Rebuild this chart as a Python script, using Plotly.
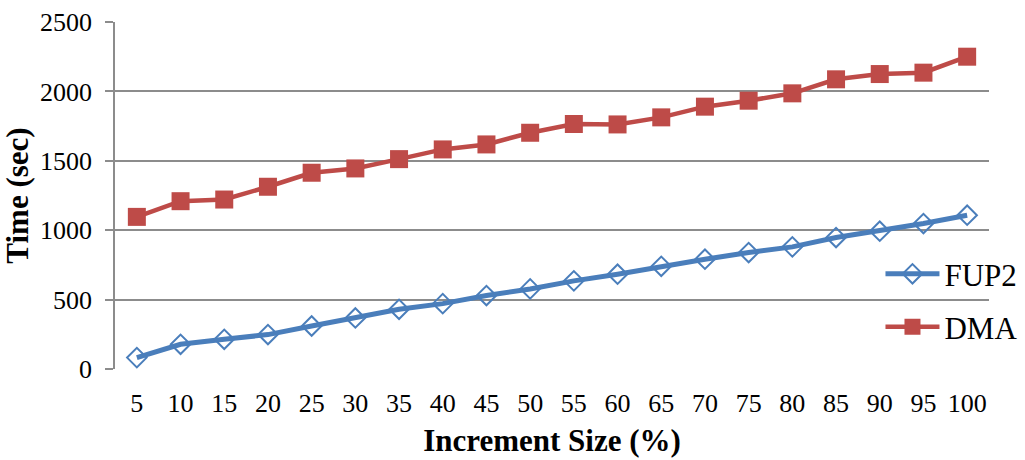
import plotly.graph_objects as go

# Increment sizes (%) on the category axis
increments = ["5", "10", "15", "20", "25", "30", "35", "40", "45", "50",
              "55", "60", "65", "70", "75", "80", "85", "90", "95", "100"]

# Running time in seconds for each algorithm
fup2_time = [82, 178, 214, 248, 310, 368, 430, 471, 529, 577,
             635, 683, 740, 791, 839, 880, 947, 993, 1048, 1108]
dma_time = [1096, 1209, 1221, 1313, 1414, 1445, 1512, 1582, 1618, 1702,
            1765, 1762, 1813, 1890, 1933, 1986, 2087, 2125, 2135, 2250]

y_ticks = [0, 500, 1000, 1500, 2000, 2500]

BLUE = "#4A7EBB"
RED = "#BE4B48"
GRID = "#8C8C8C"
FONT = "Times New Roman, Liberation Serif, DejaVu Serif, serif"

fig = go.Figure()
fig.add_trace(go.Scatter(
    x=increments, y=fup2_time, name="FUP2", mode="lines+markers",
    line=dict(color=BLUE, width=5),
    marker=dict(symbol="diamond-open", size=15, color=BLUE,
                line=dict(color=BLUE, width=2)),
    legend="legend",
))
fig.add_trace(go.Scatter(
    x=increments, y=dma_time, name="DMA", mode="lines+markers",
    line=dict(color=RED, width=4.5),
    marker=dict(symbol="square", size=18, color=RED),
    legend="legend2",
))

# One legend per series, placed in container coordinates so the plot
# area keeps its fixed margins.
legend_style = dict(
    xref="container", yref="container",
    xanchor="left", yanchor="middle", bgcolor="rgba(0,0,0,0)",
    font=dict(size=31, family=FONT), itemwidth=54,
)

fig.update_layout(
    width=1025, height=460,
    margin=dict(l=115, r=36, t=22, b=91, autoexpand=False),
    paper_bgcolor="white", plot_bgcolor="white",
    font=dict(family=FONT, color="black", size=26),
    legend=dict(x=0.859, y=0.404, **legend_style),
    legend2=dict(x=0.859, y=0.289, **legend_style),
    showlegend=True,
)

fig.update_xaxes(
    type="category", range=[-0.5, 19.5],
    showgrid=False, showline=False, ticks="",
    tickfont=dict(size=26, family=FONT), ticklabelstandoff=16,
    title=dict(text="<b>Increment Size (%)</b>", font=dict(size=31, family=FONT),
               standoff=12),
    zeroline=False,
)
fig.update_yaxes(
    range=[0, 2500], tickvals=y_ticks,
    showgrid=True, gridcolor=GRID, gridwidth=1.5,
    showline=True, linecolor=GRID, linewidth=1.5,
    ticks="outside", ticklen=8, tickcolor=GRID, tickwidth=1.5,
    tickfont=dict(size=26, family=FONT), ticklabelstandoff=8,
    title=dict(text="<b>Time (sec)</b>", font=dict(size=31, family=FONT),
               standoff=2),
    zeroline=False,
)

fig.write_html("out.html")
